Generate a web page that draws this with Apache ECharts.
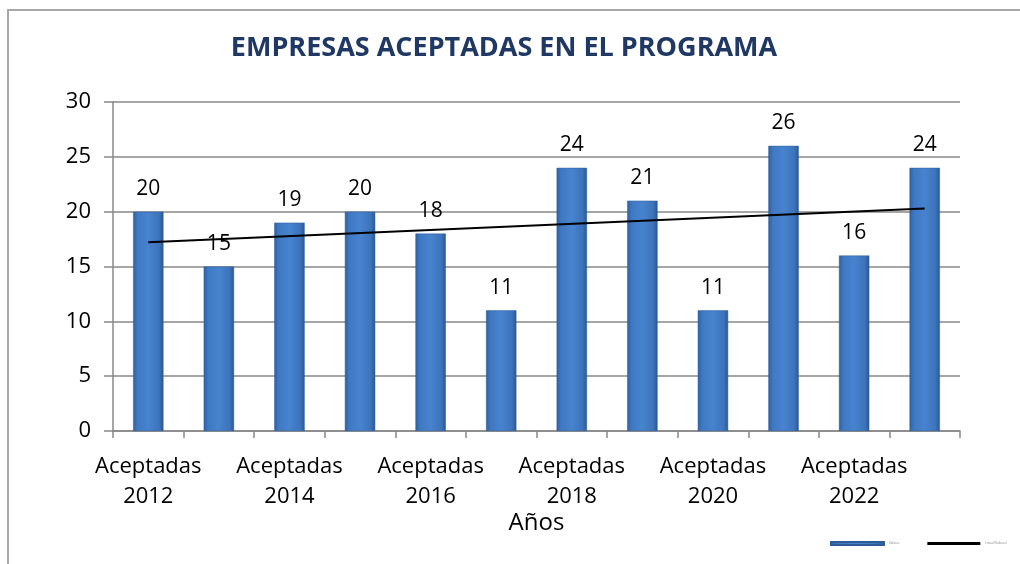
<!DOCTYPE html>
<html lang="es">
<head>
<meta charset="UTF-8">
<title>Empresas aceptadas en el programa</title>
<script src="https://cdn.jsdelivr.net/npm/echarts@6/dist/echarts.min.js"></script>
<style>
  html,body{margin:0;height:100%;background:#fff;}
  #chart{width:1020px;height:564px;}
</style>
</head>
<body>
<div id="chart"></div>
<script>
const years = ['Aceptadas\n2012','Aceptadas\n2013','Aceptadas\n2014','Aceptadas\n2015','Aceptadas\n2016','Aceptadas\n2017',
               'Aceptadas\n2018','Aceptadas\n2019','Aceptadas\n2020','Aceptadas\n2021','Aceptadas\n2022','Aceptadas\n2023'];
const valores = [20,15,19,20,18,11,24,21,11,26,16,24];
// tendencia lineal (inicio y fin)
const tendencia = [17.2, 20.3];

const myChart = echarts.init(document.getElementById('chart'));
const font = '"Open Sans", "Liberation Sans", sans-serif';

myChart.setOption({
  animation:false,
  textStyle:{fontFamily:font},
  graphic:[{
    type:'rect',
    shape:{x:8,y:10,width:1030,height:570},
    style:{fill:'none',stroke:'#a8a8a8',lineWidth:2},
    silent:true
  }],
  title:{
    text:'EMPRESAS ACEPTADAS EN EL PROGRAMA',
    left:499, top:30, textAlign:'center',
    textStyle:{color:'#1F3864',fontSize:27,fontWeight:'bold',fontFamily:font}
  },
  legend:{
    left:825, top:536,
    itemWidth:53, itemHeight:3, itemGap:28,
    textStyle:{fontSize:3,color:'#777'},
    data:[{name:'Valores',icon:'rect'},{name:'Lineal (Valores)',icon:'rect'}]
  },
  grid:{left:113,right:60,top:102,bottom:133},
  xAxis:{
    type:'category',
    data:years,
    name:'Años',
    nameLocation:'middle',
    nameGap:80,
    nameMoveOverlap:false,
    nameTextStyle:{fontSize:24,color:'#000'},
    axisLine:{lineStyle:{color:'#888',width:1.5}},
    axisTick:{show:true,interval:0,length:7,lineStyle:{color:'#888',width:1.5}},
    axisLabel:{interval:1,color:'#000',fontSize:22,lineHeight:30,margin:21}
  },
  yAxis:{
    type:'value',min:0,max:30,interval:5,
    axisLine:{show:true,lineStyle:{color:'#888',width:1.5}},
    axisTick:{show:true,length:9,lineStyle:{color:'#888',width:1.5}},
    axisLabel:{color:'#000',fontSize:22,margin:22},
    splitLine:{lineStyle:{color:'#888',width:1.5}}
  },
  series:[{
    name:'Valores',
    type:'bar',
    data:valores,
    barWidth:'43%',
    itemStyle:{
      color:new echarts.graphic.LinearGradient(0,0,1,0,[
        {offset:0,color:'#2F60A2'},
        {offset:0.15,color:'#3F79C3'},
        {offset:0.5,color:'#4783CF'},
        {offset:0.85,color:'#3D74BB'},
        {offset:1,color:'#2B5792'}
      ]),
      borderColor:'#2E5C98',borderWidth:0.5
    },
    label:{show:true,position:'top',distance:12,color:'#000',fontSize:21}
  },{
    name:'Lineal (Valores)',
    type:'line',
    data:[[0,tendencia[0]],[years.length-1,tendencia[1]]],
    symbol:'none',
    lineStyle:{color:'#000',width:2},
    itemStyle:{color:'#000'},
    z:3
  }]
});
</script>
</body>
</html>
